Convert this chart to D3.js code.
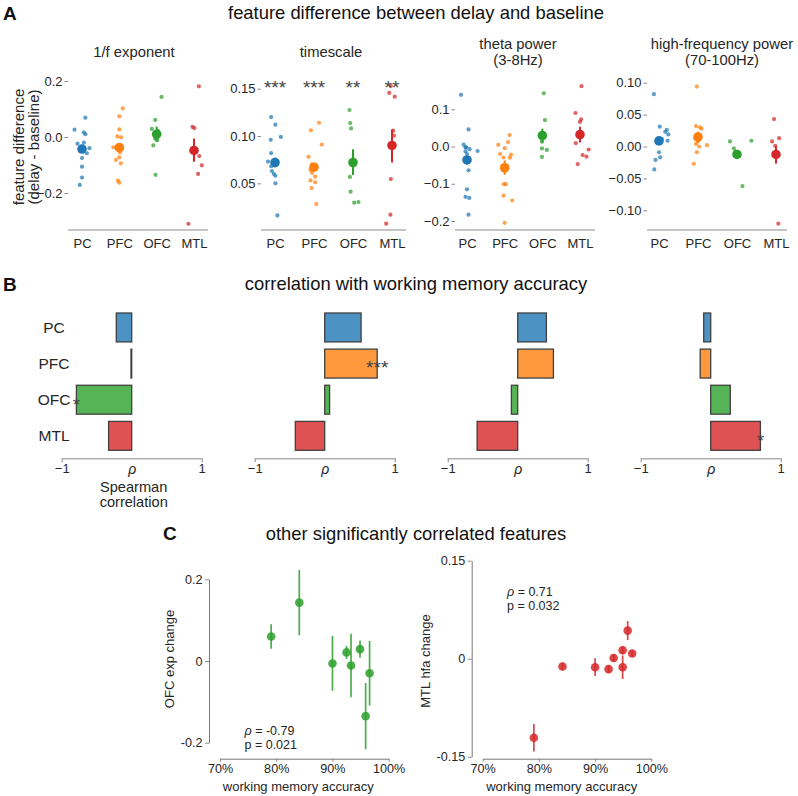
<!DOCTYPE html>
<html><head><meta charset="utf-8">
<script src="https://cdn.jsdelivr.net/npm/d3@7"></script>
<style>
body{margin:0;background:#fff;}
svg{font-family:"Liberation Sans",Arial,Helvetica,sans-serif;}
</style></head><body>
<svg id="chart" width="798" height="796"></svg>
<script>
// ---------------- DATA ----------------
const regions = ["PC","PFC","OFC","MTL"];
const colors = ["#1f77b4","#ff7f0e","#2ca02c","#d62728"];
const featureTitles = [["1/f exponent"],["timescale"],["theta power","(3-8Hz)"],["high-frequency power","(70-100Hz)"]];

// Panel A: per-subject [value, jitter in category units]
const expPC  = [[0.026,-0.20],[0.069,0.09],[0.017,0.05],[0.010,0.09],[-0.020,0.05],[-0.024,-0.12],[-0.040,0.20],[-0.058,0.13],[-0.075,0.0],[-0.106,0.0],[-0.145,0.0],[-0.171,-0.06]];
const expPFC = [[0.102,0.09],[0.074,0.0],[0.027,0.0],[0.002,-0.05],[-0.001,0.05],[-0.037,-0.16],[-0.055,0.02],[-0.073,0.0],[-0.082,-0.09],[-0.094,0.04],[-0.156,-0.04],[-0.163,0.0]];
const expOFC = [[0.143,0.13],[0.061,-0.04],[0.029,-0.13],[0.021,0.04],[-0.006,-0.04],[-0.011,0.02],[-0.030,-0.09],[-0.135,-0.03]];
const expMTL = [[0.181,0.13],[0.036,-0.04],[0.032,0.01],[-0.068,0.14],[-0.101,0.21],[-0.132,0.11],[-0.310,-0.15]];
const expMean = [-0.043,-0.038,0.010,-0.048];
const expLo   = [-0.052,-0.047,-0.017,-0.088];
const expHi   = [-0.034,-0.029,0.037,-0.005];

const tauPC  = [[0.120,-0.10],[0.112,0.01],[0.099,0.15],[0.096,-0.11],[0.082,-0.10],[0.073,-0.18],[0.068,-0.10],[0.063,-0.08],[0.060,-0.03],[0.058,0.01],[0.050,0.01],[0.016,0.06]];
const tauPFC = [[0.114,0.13],[0.106,-0.08],[0.091,0.20],[0.078,-0.14],[0.070,-0.05],[0.068,0.06],[0.064,-0.09],[0.061,-0.05],[0.057,0.03],[0.053,-0.09],[0.051,0.03],[0.045,-0.06],[0.028,0.06]];
const tauOFC = [[0.1275,-0.09],[0.1137,-0.07],[0.108,-0.05],[0.075,0.02],[0.0567,-0.08],[0.0411,-0.06],[0.0295,0.03],[0.0302,0.14]];
const tauMTL = [[0.1528,-0.03],[0.1455,-0.07],[0.1416,0.07],[0.1056,0.03],[0.1003,0.05],[0.088,0.0],[0.0545,-0.03],[0.0168,-0.04],[0.0073,-0.15]];
const tauMean = [0.072,0.067,0.072,0.090];
const tauLo   = [0.067,0.063,0.0588,0.072];
const tauHi   = [0.077,0.071,0.086,0.107];
const tauStars = ["***","***","**","**"];

const thPC  = [[0.139,-0.16],[0.046,0.04],[0.005,-0.09],[-0.002,-0.04],[-0.002,-0.02],[-0.007,0.07],[-0.012,0.28],[-0.013,-0.04],[-0.020,0.0],[-0.064,0.04],[-0.115,0.0],[-0.135,-0.04],[-0.138,0.06],[-0.183,0.04]];
const thPFC = [[0.031,0.13],[0.012,0.09],[0.0045,-0.17],[-0.0045,0.0],[-0.020,-0.12],[-0.022,0.17],[-0.030,0.14],[-0.0295,-0.03],[-0.101,-0.02],[-0.101,0.03],[-0.132,-0.03],[-0.145,0.20],[-0.205,0.0]];
const thOFC = [[0.143,0.04],[0.071,0.07],[0.035,-0.04],[0.025,0.05],[0.013,-0.01],[-0.005,-0.01],[-0.009,0.12],[-0.028,-0.01]];
const thMTL = [[0.162,0.04],[0.090,-0.12],[0.073,0.03],[0.066,0.0],[0.009,-0.11],[-0.008,0.23],[-0.023,0.07],[-0.027,0.17],[-0.047,-0.06]];
const thMean = [-0.036,-0.057,0.0295,0.032];
const thLo   = [-0.048,-0.076,0.011,0.0107];
const thHi   = [-0.024,-0.0375,0.048,0.053];

const hfPC  = [[0.082,-0.13],[0.031,0.02],[0.026,0.20],[0.023,0.16],[0.019,0.24],[0.009,0.22],[0.007,-0.06],[0.012,0.07],[-0.009,0.0],[-0.017,0.03],[-0.021,-0.09],[-0.036,-0.12]];
const hfPFC = [[0.094,-0.03],[0.032,-0.05],[0.030,0.05],[0.028,0.09],[0.018,0.04],[0.012,-0.07],[0.008,0.0],[0.004,-0.05],[0.002,0.23],[0.000,0.03],[-0.009,-0.03],[-0.027,-0.11]];
const hfOFC = [[0.008,-0.18],[0.009,0.37],[-0.003,-0.08],[-0.008,-0.04],[-0.012,0.03],[-0.016,0.0],[-0.062,0.14]];
const hfMTL = [[0.043,-0.05],[0.013,0.08],[0.008,-0.10],[0.001,-0.02],[-0.012,0.03],[-0.013,-0.03],[-0.016,0.0],[-0.013,0.05],[-0.121,0.06]];
const hfMean = [0.0088,0.015,-0.0125,-0.0125];
const hfLo   = [0.003,0.007,-0.017,-0.0266];
const hfHi   = [0.0146,0.023,-0.008,0.0005];

const aTicks1 = [-0.2,0,0.2];
const aTicks2 = [0.05,0.10,0.15];
const aTicks3 = [-0.2,-0.1,0,0.1];
const aTicks4 = [-0.10,-0.05,0,0.05,0.10];

// Panel B: Spearman rho with WM accuracy
const rhoExp   = [-0.22,-0.01,-0.79,-0.33];
const rhoTau   = [0.52,0.75,0.07,-0.42];
const rhoTheta = [0.41,0.51,-0.09,-0.58];
const rhoHfp   = [-0.10,-0.15,0.28,0.71];
const starsExp   = ["","","*",""];
const starsTau   = ["","***","",""];
const starsTheta = ["","","",""];
const starsHfp   = ["","","","*"];
const bTicks = [-1,0,1];

// Panel C
const accOFC = [0.791,0.841,0.900,0.925,0.933,0.949,0.959,0.966];
const ofcExp = [0.060,0.143,-0.006,0.021,-0.011,0.029,-0.135,-0.030];
const ofcErr = [0.030,0.080,0.067,0.016,0.078,0.021,0.081,0.079];
const accMTL = [0.791,0.842,0.900,0.924,0.933,0.949,0.949,0.958,0.966];
const mtlHfa = [-0.121,-0.012,-0.013,-0.016,0.001,0.013,-0.013,0.043,0.008];
const mtlErr = [0.021,0.006,0.0135,0.006,0.006,0.006,0.018,0.0145,0.004];
const cTicksL = [-0.2,0,0.2];
const cTicksR = [-0.15,0,0.15];
const cTicksX = [0.7,0.8,0.9,1.0];

// ---------------- DRAW ----------------
const FONT = '"Liberation Sans", Arial, Helvetica, sans-serif';
const TXT = "#262626";
const AX = "#8a8a8a";
const svg = d3.select("#chart");

function text(t, x, y, opts = {}) {
  const el = svg.append("text").attr("x", x).attr("y", y)
    .attr("font-size", opts.size || 13).attr("fill", opts.fill || TXT)
    .attr("text-anchor", opts.anchor || "start").attr("font-family", FONT);
  if (opts.weight) el.attr("font-weight", opts.weight);
  if (opts.rotate) el.attr("transform", `rotate(-90,${x},${y})`);
  el.text(t);
  return el;
}
function styleAxis(g, size) {
  g.attr("font-family", FONT).attr("font-size", size);
  g.selectAll("text").attr("fill", TXT);
  g.selectAll("line").attr("stroke", AX);
  g.select(".domain").attr("stroke", AX);
}

// panel letters & titles
text("A", 3, 19.5, {size: 19, weight: "bold", fill: "#111"});
text("B", 3, 291, {size: 19, weight: "bold", fill: "#111"});
text("C", 163, 539.5, {size: 19, weight: "bold", fill: "#111"});
text("feature difference between delay and baseline", 416, 18.5, {size: 18.4, anchor: "middle", fill: "#111"});
text("correlation with working memory accuracy", 416, 290, {size: 18.4, anchor: "middle", fill: "#111"});
text("other significantly correlated features", 416, 540, {size: 18.4, anchor: "middle", fill: "#111"});

// ---- Panel A ----
const aData  = [[expPC,expPFC,expOFC,expMTL],[tauPC,tauPFC,tauOFC,tauMTL],[thPC,thPFC,thOFC,thMTL],[hfPC,hfPFC,hfOFC,hfMTL]];
const aMeans = [expMean,tauMean,thMean,hfMean];
const aLos   = [expLo,tauLo,thLo,hfLo];
const aHis   = [expHi,tauHi,thHi,hfHi];
const aTicks = [aTicks1,aTicks2,aTicks3,aTicks4];
const aLayout = [
  {c:[82,194],  ax:[68,208],  yd:[-0.2,0.2],  yr:[193,81],      fmt:".1f", tx:134},
  {c:[275,392], ax:[261,406], yd:[0.05,0.15], yr:[183.3,88.7],  fmt:".2f", tx:331},
  {c:[467,580], ax:[455,595], yd:[-0.2,0.1],  yr:[221,109.3],   fmt:".1f", tx:518},
  {c:[659,776], ax:[647,787], yd:[-0.1,0.1],  yr:[210.3,82.7],  fmt:".2f", tx:722}
];
const AXY = 230;
aLayout.forEach((L, k) => {
  const g = svg.append("g");
  const x = d3.scalePoint().domain(regions).range(L.c);
  const step = x.step();
  const y = d3.scaleLinear().domain(L.yd).range(L.yr);
  g.append("line").attr("x1", L.ax[0]).attr("x2", L.ax[1]).attr("y1", AXY).attr("y2", AXY)
    .attr("stroke", AX).attr("stroke-width", 1.2);
  const xa = g.append("g").attr("transform", `translate(0,${AXY})`)
    .call(d3.axisBottom(x).tickSize(0).tickPadding(8.3));
  xa.select(".domain").remove();
  styleAxis(xa, 13);
  const ya = g.append("g").attr("transform", `translate(${L.ax[0]},0)`)
    .call(d3.axisLeft(y).tickValues(aTicks[k]).tickFormat(d3.format(L.fmt)).tickSize(3.5).tickPadding(2));
  ya.select(".domain").remove();
  styleAxis(ya, 13);

  regions.forEach((r, i) => {
    const col = colors[i];
    g.selectAll(null).data(aData[k][i]).enter().append("circle")
      .attr("cx", d => x(r) + d[1] * step).attr("cy", d => y(d[0]))
      .attr("r", 2.1).attr("fill", col).attr("fill-opacity", 0.72);
    g.append("line").attr("x1", x(r)).attr("x2", x(r))
      .attr("y1", y(aLos[k][i])).attr("y2", y(aHis[k][i]))
      .attr("stroke", col).attr("stroke-width", 2);
    g.append("circle").attr("cx", x(r)).attr("cy", y(aMeans[k][i])).attr("r", 4.8).attr("fill", col);
    if (k === 1) {
      text(tauStars[i], x(r), 93.5, {size: 19, anchor: "middle", fill: "#444"});
    }
  });
  const tl = featureTitles[k];
  if (tl.length === 1) text(tl[0], L.tx, 56.5, {size: 14.8, anchor: "middle"});
  else { text(tl[0], L.tx, 48.5, {size: 14.8, anchor: "middle"}); text(tl[1], L.tx, 65, {size: 14.8, anchor: "middle"}); }
});
text("feature difference", 24, 147, {size: 15, anchor: "middle", rotate: true});
text("(delay - baseline)", 39, 147, {size: 15, anchor: "middle", rotate: true});

// ---- Panel B ----
const bRho = [rhoExp, rhoTau, rhoTheta, rhoHfp];
const bStars = [starsExp, starsTau, starsTheta, starsHfp];
const bX0 = [61.7, 254.7, 447.7, 640.7];
const BAXY = 458.3;
const yB = d3.scaleBand().domain(regions).range([309.4, 453.9]).paddingInner(0.2).paddingOuter(0.1);
bX0.forEach((x0, k) => {
  const g = svg.append("g");
  const xB = d3.scaleLinear().domain([-1, 1]).range([x0, x0 + 140]);
  regions.forEach((r, i) => {
    const v = bRho[k][i];
    g.append("rect").attr("x", xB(Math.min(0, v))).attr("width", Math.abs(xB(v) - xB(0)))
      .attr("y", yB(r)).attr("height", yB.bandwidth())
      .attr("fill", colors[i]).attr("fill-opacity", 0.8)
      .attr("stroke", "#404040").attr("stroke-width", 1.3);
  });
  regions.forEach((r, i) => {
    if (bStars[k][i]) {
      text(bStars[k][i], xB(bRho[k][i]), yB(r) + yB.bandwidth() / 2 + 10.8, {size: 19, anchor: "middle", fill: "#444"});
    }
  });
  const xa = g.append("g").attr("transform", `translate(0,${BAXY})`)
    .call(d3.axisBottom(xB).tickValues(bTicks)
      .tickFormat(d => d === 0 ? "\u03c1" : (d < 0 ? "\u22121" : "1"))
      .tickSize(4).tickSizeOuter(0).tickPadding(1.5));
  styleAxis(xa, 13);
  xa.selectAll(".tick").filter(d => d === 0).select("line").remove();
  xa.selectAll(".tick").filter(d => d === 0).select("text").attr("font-style", "italic").attr("font-size", 14);
  if (k === 0) {
    regions.forEach(r => text(r, 54, yB(r) + yB.bandwidth() / 2 + 5.5, {size: 15.5, anchor: "middle"}));
    text("Spearman", xB(0) + 2, 491.7, {size: 14.6, anchor: "middle"});
    text("correlation", xB(0) + 2, 507.3, {size: 14.6, anchor: "middle"});
  }
});

// ---- Panel C ----
function scatter(acc, vals, errs, col, xr, yd, yr, ticksY, axX, fmtY) {
  const g = svg.append("g");
  const x = d3.scaleLinear().domain([0.7, 1.0]).range(xr);
  const y = d3.scaleLinear().domain(yd).range(yr);
  const CY = 758.7;
  const xa = g.append("g").attr("transform", `translate(0,${CY})`)
    .call(d3.axisBottom(x).tickValues(cTicksX).tickFormat(d3.format(".0%")).tickSize(3).tickSizeOuter(0).tickPadding(2.5));
  styleAxis(xa, 12.6);
  xa.select(".domain").attr("stroke", "#777");
  const ya = g.append("g").attr("transform", `translate(${axX},0)`)
    .call(d3.axisLeft(y).tickValues(ticksY).tickFormat(fmtY).tickSize(4).tickSizeOuter(0).tickPadding(2.5));
  styleAxis(ya, 12.6);
  ya.select(".domain").attr("stroke", "#777");
  acc.forEach((a, i) => {
    g.append("line").attr("x1", x(a)).attr("x2", x(a))
      .attr("y1", y(vals[i] - errs[i])).attr("y2", y(vals[i] + errs[i]))
      .attr("stroke", col).attr("stroke-opacity", 0.85).attr("stroke-width", 1.7);
  });
  g.selectAll(null).data(acc).enter().append("circle")
    .attr("cx", d => x(d)).attr("cy", (d, i) => y(vals[i]))
    .attr("r", 4.3).attr("fill", col).attr("fill-opacity", 0.85);
  return {x, y};
}
const fmtC = d => d === 0 ? "0" : String(d);
scatter(accOFC, ofcExp, ofcErr, colors[2], [220, 388.7], [-0.2, 0.2], [742.7, 579.3], cTicksL, 209, fmtC);
scatter(accMTL, mtlHfa, mtlErr, colors[3], [482.7, 651.3], [-0.15, 0.15], [756.7, 560.7], cTicksR, 471.7, fmtC);

function statText(x, y1, y2, rho, p) {
  const t = svg.append("text").attr("x", x).attr("y", y1).attr("font-size", 12.5).attr("fill", TXT).attr("font-family", FONT);
  t.append("tspan").attr("font-style", "italic").text("\u03c1");
  t.append("tspan").text(" = " + rho);
  text("p = " + p, x, y2, {size: 12.5});
}
statText(244.5, 735, 749, "-0.79", "0.021");
statText(507, 596, 610, "0.71", "0.032");
text("OFC exp change", 173.5, 659, {size: 13, anchor: "middle", rotate: true});
text("MTL hfa change", 430, 661, {size: 13, anchor: "middle", rotate: true});
text("working memory accuracy", 298.3, 790.5, {size: 13, anchor: "middle"});
text("working memory accuracy", 561.7, 790.5, {size: 13, anchor: "middle"});
</script>
</body></html>
